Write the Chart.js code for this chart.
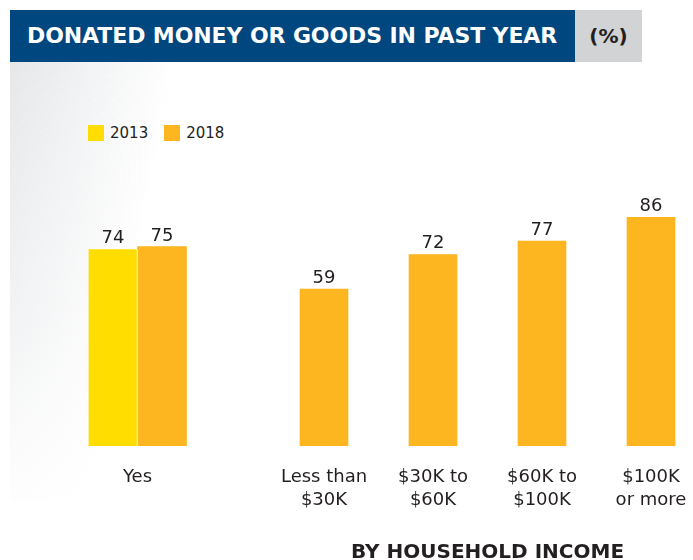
<!DOCTYPE html>
<html>
<head>
<meta charset="utf-8">
<script src="https://cdn.jsdelivr.net/npm/chart.js@4"></script>
<style>
  html, body { margin: 0; padding: 0; background: #fff; }
  body { width: 693px; height: 560px; position: relative; overflow: hidden; font-family: "DejaVu Sans", sans-serif; color: #231f20; }
  #shade { position: absolute; left: 10px; top: 62px; width: 190px; height: 440px;
    background: linear-gradient(100deg, #e5e7e9 0%, rgba(255,255,255,0) 62%);
    -webkit-mask-image: linear-gradient(to bottom, #000 0%, rgba(0,0,0,0.7) 60%, rgba(0,0,0,0.1) 100%);
    mask-image: linear-gradient(to bottom, #000 0%, rgba(0,0,0,0.7) 60%, rgba(0,0,0,0.1) 100%); }
  #title { position: absolute; left: 10px; top: 10px; width: 565px; height: 52px; background: #00467f;
    color: #fff; font-weight: bold; font-size: 22px; line-height: 52px; box-sizing: border-box; padding-left: 17px; letter-spacing: -0.1px; white-space: nowrap; }
  #unit { position: absolute; left: 575px; top: 10px; width: 67px; height: 52px; background: #d1d3d4;
    color: #231f20; font-weight: bold; font-size: 20px; line-height: 52px; text-align: center; }
  #legend { position: absolute; left: 88px; top: 125px; display: flex; font-size: 15px; line-height: 16px; }
  #legend span.item { display: flex; align-items: center; margin-right: 16px; }
  #legend span.box { width: 16px; height: 16px; margin-right: 6px; }
  canvas { position: absolute; }
  #c1 { left: 0px; top: 150px; }
  #c2 { left: 250px; top: 150px; }
</style>
</head>
<body>
<div id="shade"></div>
<div id="title">DONATED MONEY OR GOODS IN PAST YEAR</div>
<div id="unit">(%)</div>
<div id="legend"></div>
<canvas id="c1" width="260" height="416"></canvas>
<canvas id="c2" width="470" height="416"></canvas>
<script>
// data
const overallLabels = ['Yes']
const overall2013 = [74]
const overall2018 = [75]
const incomeLabels = [['Less than', '$30K'], ['$30K to', '$60K'], ['$60K to', '$100K'], ['$100K', 'or more']]
const income2018 = [59, 72, 77, 86]
const incomeTitle = 'BY HOUSEHOLD INCOME'

const yellow = '#ffdd00'
const orange = '#fdb520'
const ink = '#231f20'
const font = '"DejaVu Sans", sans-serif'

// numbers above the bars
const valueLabels = {
    id: 'valueLabels',
    afterDatasetsDraw(chart) {
        const ctx = chart.ctx
        ctx.save()
        ctx.font = '18px ' + font
        ctx.fillStyle = ink
        ctx.textAlign = 'center'
        ctx.textBaseline = 'alphabetic'
        chart.data.datasets.forEach((ds, i) => {
            chart.getDatasetMeta(i).data.forEach((bar, j) => {
                if (ds.data[j] == null) return
                ctx.fillText(ds.data[j], bar.x, bar.y - 6)
            })
        })
        ctx.restore()
    }
}

function scales(title) {
    return {
        x: {
            grid: { display: false, drawTicks: false },
            border: { display: false },
            ticks: { color: ink, font: { family: font, size: 18, lineHeight: 1.28 }, padding: 20, autoSkip: false, maxRotation: 0 },
            title: { display: !!title, text: title, color: ink, font: { family: font, size: 20, weight: 'bold' }, padding: { top: 0, bottom: 1 } },
            afterFit: (scale) => { scale.height = 120 }
        },
        y: { display: false, min: 0, max: 100 }
    }
}

const chart1 = new Chart(document.getElementById('c1'), {
    type: 'bar',
    data: {
        labels: overallLabels,
        datasets: [
            { label: '2013', data: overall2013, backgroundColor: yellow, borderColor: '#fff', borderWidth: { top: 0, right: 1, bottom: 0, left: 0 }, borderSkipped: false, barThickness: 49 },
            { label: '2018', data: overall2018, backgroundColor: orange, barThickness: 49 }
        ]
    },
    options: {
        responsive: false,
        animation: false,
        layout: { padding: { left: 15, right: 0, top: 30, bottom: 0 } },
        plugins: { legend: { display: false }, tooltip: { enabled: false } },
        scales: scales('')
    },
    plugins: [valueLabels]
})

new Chart(document.getElementById('c2'), {
    type: 'bar',
    data: {
        labels: incomeLabels,
        datasets: [
            { label: '2018', data: income2018, backgroundColor: orange, barThickness: 48 }
        ]
    },
    options: {
        responsive: false,
        animation: false,
        layout: { padding: { left: 19.5, right: 14.5, top: 30, bottom: 0 } },
        plugins: { legend: { display: false }, tooltip: { enabled: false } },
        scales: scales(incomeTitle)
    },
    plugins: [valueLabels]
})

// html legend built from the first chart's datasets
const legend = document.getElementById('legend')
chart1.data.datasets.forEach((ds) => {
    const item = document.createElement('span')
    item.className = 'item'
    const box = document.createElement('span')
    box.className = 'box'
    box.style.background = ds.backgroundColor
    const text = document.createElement('span')
    text.textContent = ds.label
    item.appendChild(box)
    item.appendChild(text)
    legend.appendChild(item)
})
</script>
</body>
</html>
